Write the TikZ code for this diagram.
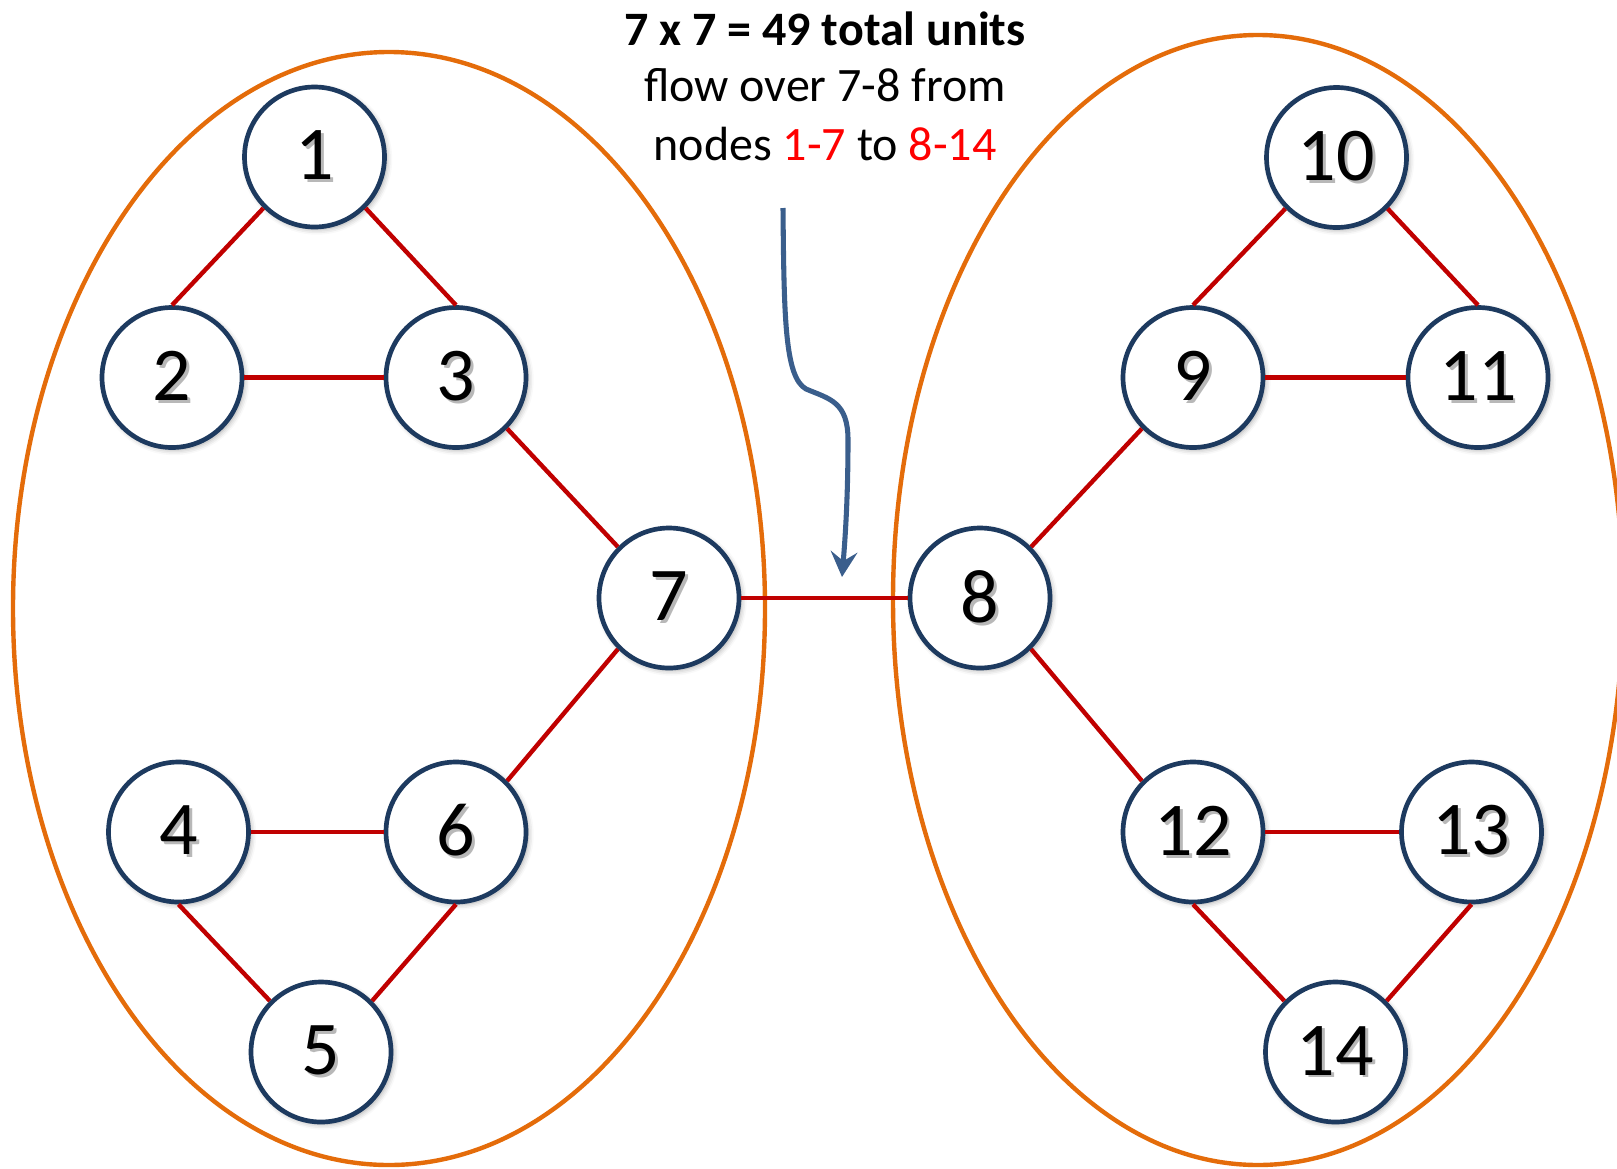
\documentclass[tikz,border=0pt]{standalone}
\usepackage{fontspec}
\setmainfont{Carlito}
\usetikzlibrary{arrows.meta,shadows.blur}

\definecolor{ringorange}{HTML}{E46C0A}
\definecolor{vertexblue}{HTML}{1D3A5F}
\definecolor{linkred}{HTML}{C00000}
\definecolor{pointerblue}{HTML}{3A5E8C}
\definecolor{hilite}{HTML}{FF0000}

% digit with a soft grey copy behind it
\newcommand\shadednum[1]{\makebox[0pt][l]{\hspace{2.2pt}\raisebox{-2.2pt}{\textcolor{black!28}{#1}}}#1}

\begin{document}
\begin{tikzpicture}[x=0.75pt,y=-0.75pt,
  vertex/.style={circle, draw=vertexblue, line width=3.5pt, fill=white,
    minimum size=105pt, inner sep=0pt, font=\fontsize{57}{57}\selectfont,
    blur shadow={shadow xshift=1.8pt, shadow yshift=-1.8pt,
      shadow blur radius=4pt, shadow opacity=35}},
  link/.style={draw=linkred, line width=3.3pt},
  ring/.style={draw=ringorange, line width=3.3pt},
  pointer/.style={draw=pointerblue, line width=3.8pt,
    -{Stealth[length=19pt,width=20pt,inset=7pt]}},
  caption/.style={font=\fontsize{36}{43}\selectfont, anchor=base, inner sep=0pt}]

\useasboundingbox (0,0) rectangle (1617,1168);

% the two clusters
\draw[ring] (389,608.5) ellipse [x radius=376, y radius=556.5];
\draw[ring] (1258,600) ellipse [x radius=365, y radius=565];

% vertices, left cluster
\node[vertex] (n1)  at (314.5,157)  {\shadednum{1}};
\node[vertex] (n2)  at (172,377.5)  {\shadednum{2}};
\node[vertex] (n3)  at (456,377.5)  {\shadednum{3}};
\node[vertex] (n7)  at (669,598)    {\shadednum{7}};
\node[vertex] (n4)  at (178.5,832)  {\shadednum{4}};
\node[vertex] (n6)  at (456,832)    {\shadednum{6}};
\node[vertex] (n5)  at (321,1052)   {\shadednum{5}};
% vertices, right cluster
\node[vertex] (n8)  at (980,598)    {\shadednum{8}};
\node[vertex] (n9)  at (1193,377.5) {\shadednum{9}};
\node[vertex] (n10) at (1336.5,157.5) {\shadednum{10}};
\node[vertex] (n11) at (1478,377.5) {\shadednum{11}};
\node[vertex] (n12) at (1193,832)   {\shadednum{12}};
\node[vertex] (n13) at (1471.5,832) {\shadednum{13}};
\node[vertex] (n14) at (1335.5,1052) {\shadednum{14}};

% edges, attached at fixed points of the rims
\draw[link] (n1.225) -- (n2.north);
\draw[link] (n1.-45) -- (n3.north);
\draw[link] (n2.east) -- (n3.west);
\draw[link] (n3.-45) -- (n7.135);
\draw[link] (n7.225) -- (n6.45);
\draw[link] (n4.east) -- (n6.west);
\draw[link] (n4.south) -- (n5.135);
\draw[link] (n6.south) -- (n5.45);
\draw[link] (n7.east) -- (n8.west);
\draw[link] (n8.45) -- (n9.225);
\draw[link] (n8.-45) -- (n12.135);
\draw[link] (n9.north) -- (n10.225);
\draw[link] (n10.-45) -- (n11.north);
\draw[link] (n9.east) -- (n11.west);
\draw[link] (n12.east) -- (n13.west);
\draw[link] (n12.south) -- (n14.135);
\draw[link] (n13.south) -- (n14.45);

% caption
\node[caption] (t1) at (825,45)    {\bfseries 7 x 7 = 49 total units};
\node[caption] (t2) at (825,101.7) {flow over 7-8 from};
\node[caption] (t3) at (825,160)   {nodes \textcolor{hilite}{1-7} to \textcolor{hilite}{8-14}};

% pointer to the 7-8 edge
\coordinate (ptrstart) at (783,208);
\coordinate (ptrend) at (842,577);
\draw[pointer] (ptrstart) .. controls (784,320) and (785,377) .. (806,389)
  .. controls (830,399) and (848,402) .. (848,440)
  .. controls (848,500) and (845,540) .. (ptrend);

\end{tikzpicture}
\end{document}
